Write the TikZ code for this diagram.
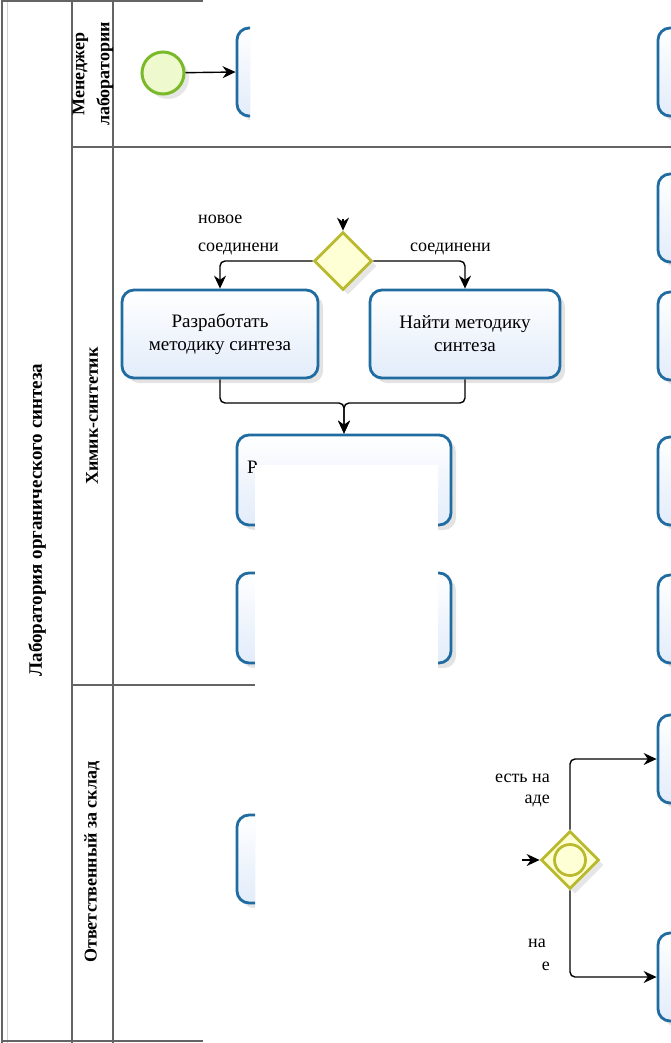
\documentclass[tikz,border=0pt]{standalone}
\usepackage{fontspec}
\setmainfont{Liberation Serif}
\usetikzlibrary{arrows.meta,shadows,shapes.geometric}
\definecolor{taskborder}{RGB}{32,108,160}
\definecolor{taskfill}{RGB}{226,236,250}
\definecolor{startborder}{RGB}{122,186,42}
\definecolor{startfill}{RGB}{238,249,206}
\definecolor{gwborder}{RGB}{186,186,48}
\definecolor{gwfill}{RGB}{255,255,214}
\definecolor{poolline}{RGB}{100,100,100}
\begin{document}
\begin{tikzpicture}[x=1pt,y=-1pt,
  task/.style={draw=taskborder, line width=2.8pt, rounded corners=12pt,
    top color=white, bottom color=taskfill, minimum width=214pt, minimum height=88pt,
    inner sep=0pt, align=center, font=\fontsize{19}{23}\selectfont,
    drop shadow={shadow xshift=5pt, shadow yshift=-5pt, opacity=0.22}},
  startev/.style={circle, draw=startborder, line width=3pt, fill=startfill,
    minimum size=42pt, inner sep=0pt,
    drop shadow={shadow xshift=5pt, shadow yshift=-5pt, opacity=0.2}},
  gateway/.style={diamond, draw=gwborder, line width=2.8pt, fill=gwfill,
    minimum width=58pt, minimum height=58pt, inner sep=0pt, aspect=1,
    drop shadow={shadow xshift=5pt, shadow yshift=-5pt, opacity=0.2}},
  flow/.style={draw=black, line width=1.4pt, rounded corners=5pt,
    -{Stealth[length=13pt,width=12pt]}},
  poolln/.style={draw=poolline, line width=1.4pt},
  lanelabel/.style={rotate=90, font=\bfseries\fontsize{18}{25}\selectfont, align=center},
  gwlabel/.style={font=\fontsize{18}{20}\selectfont, inner sep=0pt}
]
\useasboundingbox (0,0) rectangle (671,1043);
\clip (0,0) rectangle (671,1043);

% pool and lanes
\draw[draw=gray!35, line width=1pt] (7,0) -- (7,1043);
\draw[poolln] (2,0) -- (2,1043);
\draw[poolln] (72,0) -- (72,1043);
\draw[poolln] (113,0) -- (113,1043);
\draw[poolln] (2,1) -- (203,1);
\draw[poolln] (2,1041) -- (203,1041);
\draw[poolln] (72,147) -- (671,147);
\draw[poolln] (72,685) -- (255,685);

\node[lanelabel, font=\bfseries\fontsize{19}{24}\selectfont] (pool) at (37,520) {Лаборатория органического синтеза};
\node[lanelabel] (lane1) at (93,74) {Менеджер\\лаборатории};
\node[lanelabel] (lane2) at (92,416) {Химик-синтетик};
\node[lanelabel] (lane3) at (92,862) {Ответственный за склад};

% lane 1
\node[startev] (start) at (163,73) {};
\begin{scope}
  \clip (225,15) rectangle (250,135);
  \node[task] (boxA) at (344,72) {};
\end{scope}
\node[task] (r1) at (765,72) {};

% lane 2
\node[gateway] (gw1) at (343,261) {};
\node[task, minimum width=196pt] (dev) at (220,334) {Разработать\\методику синтеза};
\node[task, minimum width=190pt] (find) at (465,334) {Найти методику\\синтеза};
\node[task, minimum height=90pt] (prep) at (344,480) {};
\node[anchor=base west, inner sep=0pt, font=\fontsize{19}{22}\selectfont] (prepText) at (247,473) {Р};
\node[task, minimum height=90pt] (prep2) at (344,618) {};
\node[task] (r2) at (765,218) {};
\node[task] (r3) at (765,336) {};
\node[task] (r4) at (765,481) {};
\node[task] (r5) at (765,619) {};

\node[gwlabel, anchor=base west] (l1a) at (198,223) {новое};
\node[gwlabel, anchor=base west] (l1b) at (198,251) {соединени};
\node[gwlabel, anchor=base west] (l2) at (410,251) {соединени};

% lane 3
\begin{scope}
  \clip (225,800) rectangle (255,920);
  \node[task] (boxL3) at (344,859) {};
\end{scope}
\node[gateway] (gw2) at (570,860) {};
\node[circle, draw=gwborder, line width=2.8pt, minimum size=31pt, inner sep=0pt] (gw2c) at (gw2.center) {};
\node[task] (r6) at (765,759) {};
\node[task] (r7) at (765,977) {};

\node[gwlabel, anchor=base east] (l3a) at (550,782) {есть на};
\node[gwlabel, anchor=base east] (l3b) at (550,803) {аде};
\node[gwlabel, anchor=base east] (l4a) at (546,947) {на};
\node[gwlabel, anchor=base east] (l4b) at (550,970) {е};

% mask over the hidden part
\fill[white] (255,465) rectangle (438,690);

% connectors
\coordinate (gw1in) at (343,219);
\coordinate (mrg) at (344,403);
\coordinate (gw2in) at (522,860);
\draw[flow] (start) -- (boxA.west);
\draw[flow] (gw1in) -- (gw1.north);
\draw[flow] (gw1.west) -| (dev.north);
\draw[flow] (gw1.east) -| (find.north);
\draw[flow] (dev.south) |- (mrg) -- (prep.north);
\draw[flow] (find.south) |- (mrg) -- (prep.north);
\draw[flow] (gw2in) -- (gw2.west);
\draw[flow] (gw2.north) |- (r6.west);
\draw[flow] (gw2.south) |- (r7.west);
\end{tikzpicture}
\end{document}
